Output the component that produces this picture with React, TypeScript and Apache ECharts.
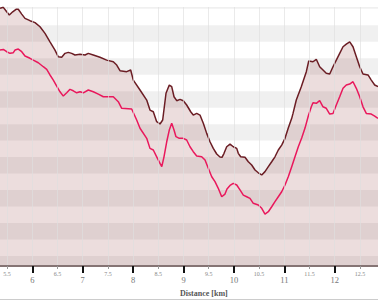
import React, { useEffect, useRef } from "react";
import * as echarts from "echarts";

// Upper (dark) profile: distance [km] / value
const darkKm = [5.359,5.425,5.492,5.544,5.611,5.677,5.722,5.790,5.855,5.954,6.054,6.153,6.252,6.351,6.450,6.516,6.583,6.649,6.714,6.782,6.847,6.946,7.046,7.111,7.210,7.343,7.476,7.607,7.675,7.740,7.873,7.952,8.004,8.137,8.270,8.335,8.401,8.468,8.534,8.587,8.653,8.718,8.766,8.812,8.865,8.931,8.996,9.063,9.143,9.194,9.262,9.327,9.393,9.460,9.526,9.591,9.659,9.724,9.764,9.804,9.857,9.923,9.988,10.056,10.087,10.135,10.220,10.286,10.353,10.419,10.484,10.552,10.617,10.683,10.750,10.815,10.881,10.948,11.014,11.079,11.147,11.173,11.238,11.337,11.437,11.484,11.569,11.635,11.702,11.768,11.833,11.901,11.966,12.032,12.099,12.165,12.230,12.298,12.363,12.429,12.496,12.562,12.661,12.726,12.794,12.859];
const darkVal = [550.2,550.8,548.1,546.1,548.1,549.6,549.6,546.7,544.1,542.7,541.5,539.0,535.0,529.9,524.9,520.8,520.5,522.9,523.5,522.9,521.9,522.3,521.9,522.9,521.9,520.5,518.8,517.8,515.8,512.4,511.8,512.8,506.7,500.7,494.6,488.5,487.5,481.5,480.1,482.5,498.7,503.7,502.7,496.6,494.2,495.0,494.2,491.6,487.5,485.5,486.5,485.5,480.5,474.4,469.3,465.3,461.9,460.1,459.9,462.3,466.3,467.9,466.3,465.3,462.3,460.2,459.9,457.2,455.2,452.2,450.5,449.2,451.2,454.2,457.2,460.2,464.3,467.3,471.4,477.6,483.5,486.5,494.6,502.7,511.8,518.2,517.8,519.3,514.8,512.8,510.8,510.4,514.8,518.8,522.9,526.9,528.5,529.9,526.9,520.8,514.8,510.4,509.8,506.7,503.7,502.7];

// Lower (pink) profile
const pinkKm = [5.359,5.425,5.492,5.558,5.623,5.657,5.722,5.790,5.855,5.954,6.020,6.119,6.218,6.286,6.351,6.417,6.484,6.550,6.615,6.683,6.748,6.813,6.881,6.946,7.012,7.111,7.210,7.310,7.409,7.607,7.706,7.774,7.972,8.071,8.137,8.270,8.335,8.401,8.468,8.534,8.569,8.613,8.667,8.718,8.766,8.812,8.851,8.917,8.996,9.063,9.129,9.194,9.262,9.361,9.427,9.492,9.560,9.625,9.690,9.758,9.823,9.863,9.923,9.988,10.056,10.121,10.187,10.254,10.319,10.385,10.484,10.552,10.617,10.683,10.750,10.815,10.881,10.948,11.014,11.079,11.147,11.212,11.278,11.345,11.411,11.476,11.536,11.569,11.635,11.702,11.768,11.833,11.901,11.966,12.032,12.099,12.165,12.230,12.298,12.363,12.429,12.496,12.562,12.627,12.726,12.794,12.859];
const pinkVal = [524.9,525.3,523.9,522.9,523.3,524.9,525.5,523.9,521.3,519.9,518.8,517.2,514.8,513.2,509.8,506.7,503.1,499.6,497.0,499.0,501.1,500.2,499.0,499.6,499.0,500.7,499.6,498.2,496.6,496.6,493.6,489.6,489.2,482.5,477.5,471.4,465.3,464.3,460.2,456.2,454.2,460.2,469.3,476.4,480.5,476.4,472.4,471.4,471.4,470.4,466.3,463.3,460.7,460.2,458.2,453.2,448.1,445.1,441.1,436.0,437.6,440.7,442.8,444.1,443.1,440.1,437.0,436.0,435.0,432.0,431.0,429.0,425.5,426.9,429.9,433.0,436.0,439.0,443.1,448.1,454.2,460.2,466.3,471.6,477.6,484.9,490.5,493.0,492.6,494.2,490.5,489.6,486.1,486.5,491.6,496.6,501.7,503.7,504.3,505.7,501.7,496.6,490.5,486.5,486.1,484.9,483.5];

const xMin = 5;
const xMax = 13;
const yMin = 394;
const yMax = 551;
const axisTitle = "Distance [km]";

export default function App() {
  const ref = useRef<HTMLDivElement>(null);
  useEffect(() => {
    if (!ref.current) return;
    const chart = echarts.init(ref.current, null, { renderer: "svg" });
    const dark = darkKm.map((k, i) => [k, darkVal[i]]);
    const pink = pinkKm.map((k, i) => [k, pinkVal[i]]);
    const serif = "Liberation Serif";
    const isEdge = (v: number) => v <= xMin + 1e-6 || v >= xMax - 1e-6;
    chart.setOption({
      animation: false,
      backgroundColor: "#ffffff",
      grid: {
        left: -18.1,
        right: -7.1,
        top: 7,
        bottom: 34,
        containLabel: false,
        outerBoundsMode: "none",
      },
      xAxis: [
        {
          type: "value",
          position: "bottom",
          min: xMin,
          max: xMax,
          interval: 0.5,
          z: 3,
          axisLine: { show: true, lineStyle: { color: "#857474", width: 2 } },
          axisTick: { show: true, length: 3, lineStyle: { color: "#999999", width: 1 } },
          axisLabel: {
            show: true,
            interval: 0,
            margin: 5,
            fontSize: 6,
            color: "#888888",
            fontFamily: serif,
            showMinLabel: false,
            showMaxLabel: false,
            formatter: (v: number) =>
              isEdge(v) || Math.abs(v - Math.round(v)) < 1e-6 ? "" : String(v),
          },
          splitLine: { show: true, lineStyle: { color: "rgba(222,222,222,0.65)", width: 1 } },
        },
        {
          type: "value",
          position: "bottom",
          min: xMin,
          max: xMax,
          interval: 1,
          z: 3,
          axisLine: { show: false },
          axisTick: { show: true, length: 7, lineStyle: { color: "#111111", width: 2 } },
          axisLabel: {
            show: true,
            interval: 0,
            margin: 9,
            fontSize: 8.5,
            color: "#777777",
            fontFamily: serif,
            showMinLabel: false,
            showMaxLabel: false,
            formatter: (v: number) => (isEdge(v) ? "" : String(v)),
          },
          splitLine: { show: false },
        },
      ],
      yAxis: {
        type: "value",
        min: yMin,
        max: yMax,
        minInterval: 10,
        maxInterval: 10,
        axisLine: { show: false },
        axisTick: { show: false },
        axisLabel: { show: false },
        splitLine: { show: false },
        splitArea: { show: true, areaStyle: { color: ["#f0f0f0", "rgba(255,255,255,0)"] } },
      },
      series: [
        {
          type: "line",
          data: dark,
          xAxisIndex: 0,
          showSymbol: false,
          symbol: "none",
          z: 2,
          lineStyle: { color: "#6b1d24", width: 1.5 },
          areaStyle: { color: "rgba(150,62,62,0.25)", origin: "start" },
        },
        {
          type: "line",
          data: pink,
          xAxisIndex: 0,
          showSymbol: false,
          symbol: "none",
          z: 2,
          lineStyle: { color: "#e9185c", width: 1.5 },
        },
      ],
      graphic: [
        {
          type: "text",
          left: 180,
          top: 289,
          style: { text: axisTitle, font: `bold 8px ${serif}`, fill: "#555555" },
        },
        {
          type: "line",
          shape: { x1: 0, y1: 299.5, x2: 378, y2: 299.5 },
          style: { stroke: "#cccccc", lineWidth: 1 },
        },
      ],
    });
    return () => chart.dispose();
  }, []);
  return <div ref={ref} style={{ width: 378, height: 300, position: "absolute", left: 0, top: 0 }} />;
}
